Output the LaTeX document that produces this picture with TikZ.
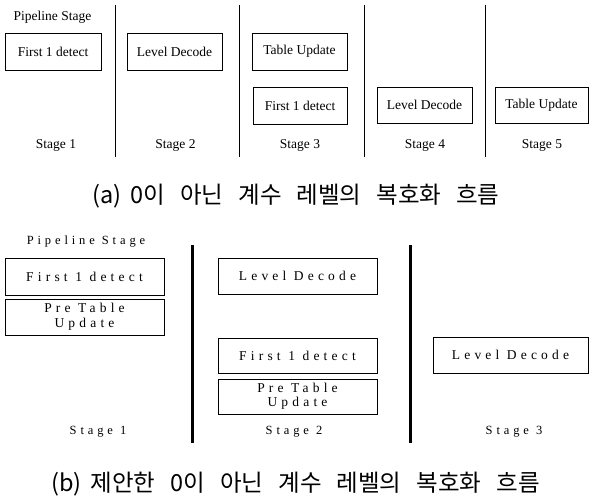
\documentclass[tikz,border=0pt]{standalone}
\usepackage{fontspec}
\setmainfont{Liberation Serif}
\newfontfamily\krfont{Noto Sans CJK KR}
\newfontfamily\spacedfont[LetterSpace=31]{Liberation Serif}
\newcommand\wsp{\hspace{15pt}}
\begin{document}
\begin{tikzpicture}[x=1pt,y=-1pt,
  abox/.style={draw,line width=0.8pt,rectangle,inner sep=0pt,minimum height=37pt,
    font=\fontsize{13.5}{15}\selectfont},
  bbox/.style={draw,line width=0.8pt,rectangle,inner sep=0pt,minimum width=159pt,
    align=center,font=\spacedfont\fontsize{13.5}{14.5}\selectfont},
  alabel/.style={inner sep=0pt,font=\fontsize{13.5}{15}\selectfont},
  blabel/.style={inner sep=0pt,font=\spacedfont\fontsize{12.5}{14}\selectfont},
  thin sep/.style={line width=0.8pt},
  thick sep/.style={line width=3pt},
  caption/.style={inner sep=0pt,font=\krfont\fontsize{23.5}{26}\selectfont}]
\useasboundingbox (0,0) rectangle (589,500);
\fill[white] (0,0) rectangle (589,500);
% ---------- (a) ----------
\node[alabel] (atitle) at (52.5,17) {Pipeline Stage};
\node[abox,minimum width=96pt] (a1) at (53,51.5) {First 1 detect};
\node[abox,minimum width=95pt] (a2) at (174.5,51.5) {Level Decode};
\node[abox,minimum width=95pt] (a3) at (299.5,51.5) {Table Update};
\node[abox,minimum width=94pt] (a4) at (300,105.5) {First 1 detect};
\node[abox,minimum width=95pt,minimum height=36pt] (a5) at (424.5,105) {Level Decode};
\node[abox,minimum width=93pt,minimum height=36pt] (a6) at (541.5,105) {Table Update};
\coordinate (s1t) at (115,5);  \coordinate (s1b) at (115,157);
\coordinate (s2t) at (239,5);  \coordinate (s2b) at (239,157);
\coordinate (s3t) at (364,5);  \coordinate (s3b) at (364,157);
\coordinate (s4t) at (485,5);  \coordinate (s4b) at (485,157);
\draw[thin sep] (s1t) -- (s1b);
\draw[thin sep] (s2t) -- (s2b);
\draw[thin sep] (s3t) -- (s3b);
\draw[thin sep] (s4t) -- (s4b);
\node[alabel] (al1) at (56,145) {Stage 1};
\node[alabel] (al2) at (175.5,145) {Stage 2};
\node[alabel] (al3) at (300,145) {Stage 3};
\node[alabel] (al4) at (425,145) {Stage 4};
\node[alabel] (al5) at (542,145) {Stage 5};
\node[caption] (capa) at (296,196) {(a)\hspace{9pt}0이\wsp 아닌\wsp 계수\wsp 레벨의\wsp 복호화\wsp 흐름};
% ---------- (b) ----------
\node[blabel] (btitle) at (86,242) {Pipeline Stage};
\node[bbox,minimum height=37pt] (b1) at (84.5,276.5) {First 1 detect};
\node[bbox,minimum height=36pt] (b2) at (84.5,317) {Pre Table\\Update};
\node[bbox,minimum height=36pt] (b3) at (297.5,276) {Level Decode};
\node[bbox,minimum height=35pt] (b4) at (297.5,355.5) {First 1 detect};
\node[bbox,minimum height=35pt] (b5) at (297.5,396.5) {Pre Table\\Update};
\node[bbox,minimum width=155pt,minimum height=36pt] (b6) at (510.5,355) {Level Decode};
\coordinate (t1t) at (192,245); \coordinate (t1b) at (192,443);
\coordinate (t2t) at (410.5,245); \coordinate (t2b) at (410.5,443);
\draw[thick sep] (t1t) -- (t1b);
\draw[thick sep] (t2t) -- (t2b);
\node[blabel] (bl1) at (98,432) {Stage 1};
\node[blabel] (bl2) at (294,432) {Stage 2};
\node[blabel] (bl3) at (514,432) {Stage 3};
\node[caption] (capb) at (295.5,484) {(b)\hspace{9pt}제안한\wsp 0이\wsp 아닌\wsp 계수\wsp 레벨의\wsp 복호화\wsp 흐름};
\end{tikzpicture}
\end{document}
